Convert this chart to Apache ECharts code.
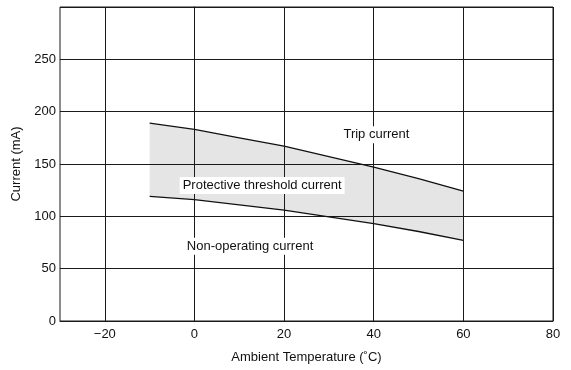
<!DOCTYPE html>
<html>
<head>
<meta charset="utf-8">
<script src="https://cdn.jsdelivr.net/npm/echarts@6/dist/echarts.min.js"></script>
<style>html,body{margin:0;padding:0;background:#fff;}#c{width:571px;height:370px;}</style>
</head>
<body>
<div id="c"></div>
<script>
const xTicks = [-20, 0, 20, 40, 60, 80];
const yTicks = [0, 50, 100, 150, 200, 250];
const temps = [-10, 0, 10, 20, 30, 40, 50, 60];
const tripCurrent = [189, 183, 175, 167, 157, 147, 136, 124];
const nonOpCurrent = [119, 116, 111, 106, 99.5, 93, 85.5, 77];
const annoText = ['Trip current', 'Protective threshold current', 'Non-operating current'];
const annoX = [40.6, 15.1, 12.4];
const annoY = [178, 129.5, 71.3];

const FONT = '"Liberation Sans", Arial, Helvetica, sans-serif';
const INK = '#1a1a1a';

const chart = echarts.init(document.getElementById('c'), null, {renderer: 'canvas'});
chart.setOption({
  animation: false,
  backgroundColor: '#fff',
  textStyle: {fontFamily: FONT},
  grid: {left: 60, right: 18, top: 7, bottom: 49, show: true, borderColor: INK, borderWidth: 1},
  xAxis: {
    type: 'value', min: -30, max: 80, interval: 10,
    name: 'Ambient Temperature (\u02DAC)', nameLocation: 'middle', nameGap: 30,
    nameTextStyle: {fontSize: 13, color: '#111', fontFamily: FONT},
    axisLine: {show: true, lineStyle: {color: INK, width: 1}},
    axisTick: {show: false},
    splitLine: {show: false},
    axisLabel: {
      fontSize: 13, color: '#111', margin: 7, fontFamily: FONT,
      formatter: v => xTicks.includes(v) ? String(v).replace('-', '\u2212') : ''
    }
  },
  yAxis: {
    type: 'value', min: 0, max: 300, interval: 50,
    name: 'Current (mA)', nameLocation: 'middle', nameGap: 37, nameRotate: 90,
    nameTextStyle: {fontSize: 13, color: '#111', fontFamily: FONT},
    axisLine: {show: true, lineStyle: {color: INK, width: 1}},
    axisTick: {show: false},
    splitLine: {show: true, lineStyle: {color: INK, width: 1}},
    axisLabel: {
      fontSize: 13, color: '#111', margin: 4, fontFamily: FONT,
      formatter: v => yTicks.includes(v) ? String(v) : ''
    }
  },
  series: [
    {
      type: 'custom',
      z: 2,
      data: temps.map((t, i) => [t, tripCurrent[i], nonOpCurrent[i]]),
      encode: {x: 0, y: [1, 2]},
      renderItem: function (params, api) {
        if (params.dataIndex !== 0) return null;
        const pts = [];
        for (let i = 0; i < temps.length; i++) pts.push(api.coord([temps[i], tripCurrent[i]]));
        for (let i = temps.length - 1; i >= 0; i--) pts.push(api.coord([temps[i], nonOpCurrent[i]]));
        return {type: 'polygon', shape: {points: pts}, style: {fill: 'rgba(0,0,0,0.1)'}};
      }
    },
    {
      type: 'line', z: 3, showSymbol: false, silent: true,
      data: temps.map((t, i) => [t, tripCurrent[i]]),
      lineStyle: {color: '#111', width: 1.3},
      markLine: {
        silent: true, symbol: 'none', label: {show: false},
        lineStyle: {color: INK, width: 1, type: 'solid'},
        data: xTicks.map(v => ({xAxis: v}))
      }
    },
    {
      type: 'line', z: 3, showSymbol: false, silent: true,
      data: temps.map((t, i) => [t, nonOpCurrent[i]]),
      lineStyle: {color: '#111', width: 1.3}
    },
    {
      type: 'scatter', z: 5, symbolSize: 0, silent: true,
      itemStyle: {opacity: 1},
      data: annoX.map((x, i) => ({value: [x, annoY[i]], name: annoText[i]})),
      label: {
        show: true, position: 'inside', formatter: p => p.name,
        fontSize: 13, color: '#111', opacity: 1, fontFamily: FONT,
        backgroundColor: '#fff', padding: [2, 3]
      }
    }
  ]
});
</script>
</body>
</html>
